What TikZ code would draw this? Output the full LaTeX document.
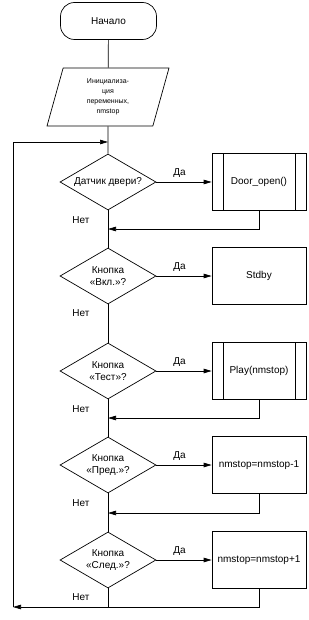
\documentclass[tikz,border=0pt]{standalone}
\usepackage{fontspec}
\setmainfont{Liberation Sans}
\usetikzlibrary{arrows.meta, positioning, shapes.geometric, calc}

\begin{document}
\begin{tikzpicture}[
    x=1pt, y=-1pt,
    font=\fontsize{10}{12}\selectfont,
    line width=0.7pt,
    term/.style={rectangle, rounded corners=14pt, minimum width=96pt,
                 minimum height=37pt, draw},
    io/.style={trapezium, trapezium left angle=66, trapezium right angle=114,
               trapezium stretches body, minimum width=122pt, minimum height=58pt,
               draw, align=center, inner sep=0pt, font=\fontsize{7}{10}\selectfont},
    cond/.style={diamond, aspect=1.7, minimum width=96pt, minimum height=56pt,
                 inner sep=0pt, draw, align=center},
    proc/.style={rectangle, minimum width=94pt, minimum height=57pt,
                 inner sep=1pt, draw},
    sub/.style={proc, path picture={
        \draw ([xshift=11pt]path picture bounding box.north west)
           -- ([xshift=11pt]path picture bounding box.south west);
        \draw ([xshift=-11pt]path picture bounding box.north east)
           -- ([xshift=-11pt]path picture bounding box.south east);}},
    arr/.style={-{Triangle[length=8pt,width=4.5pt]}},
]
\useasboundingbox (0,0) rectangle (308,620);

% blocks
\node[term] (start) at (108.5,21) {Начало};
\node[io]   (init)  at (108,97)   {Инициализа-\\ция\\переменных,\\nmstop};

\node[cond] (d1) at (108,182) {Датчик двери?};
\node[cond] (d2) at (108,276) {Кнопка\\«Вкл.»?};
\node[cond] (d3) at (108,371) {Кнопка\\«Тест»?};
\node[cond] (d4) at (108,465) {Кнопка\\«Пред.»?};
\node[cond] (d5) at (108,560) {Кнопка\\«След.»?};

\node[sub]  (p1) at (259,182) {Door\_open()};
\node[proc] (p2) at (259,276) {Stdby};
\node[sub]  (p3) at (259,371) {Play(nmstop)};
\node[proc] (p4) at (259,465) {nmstop=nmstop-1};
\node[proc] (p5) at (259,560) {nmstop=nmstop+1};

% "no" labels
\node (n1) at (81,220) {Нет};
\node (n2) at (81,313) {Нет};
\node (n3) at (81,409) {Нет};
\node (n4) at (81,503) {Нет};
\node (n5) at (81,597) {Нет};

% junction points
\coordinate (lp) at (108,142);
\coordinate (r1) at (108,229);
\coordinate (r3) at (108,418);
\coordinate (r4) at (108,513);
\coordinate (b5) at (108,607);
\coordinate (c0) at (13,607);
\coordinate (c1) at (13,142);

% main line
\draw (start) -- (init);
\draw (init) -- (d1);
\draw (d1) -- (d2);
\draw (d2) -- (d3);
\draw (d3) -- (d4);
\draw (d4) -- (d5);
\draw (d5) -- (b5);

% yes branches
\foreach \i in {1,...,5}
    \draw[arr] (d\i) -- node[above=1pt, pos=0.42] {Да} (p\i);

% returns
\draw[arr] (p1.south) |- (r1);
\draw[arr] (p3.south) |- (r3);
\draw[arr] (p4.south) |- (r4);
\draw[arr] (p5.south) |- (c0);
\draw[arr] (c0) -- (c1) -- (lp);
\end{tikzpicture}
\end{document}
